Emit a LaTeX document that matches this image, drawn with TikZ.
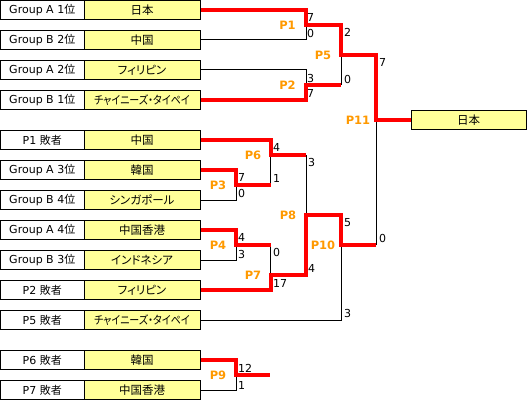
\documentclass[tikz,border=0pt]{standalone}
\usepackage{fontspec}
\setmainfont{DejaVu Sans}
\newfontfamily\jp[RawFeature=+palt]{Noto Sans CJK JP}
\newfontfamily\jpk[RawFeature=+palt,FakeStretch=0.87]{Noto Sans CJK JP}
\definecolor{boxyellow}{HTML}{FFFF99}
\definecolor{porange}{HTML}{FF9900}
\definecolor{winred}{HTML}{FF0000}
\begin{document}
\begin{tikzpicture}[x=1pt,y=-1pt,
  lab/.style={draw=black, line width=1pt, fill=white, minimum width=83.5pt, minimum height=19pt, inner sep=0pt, font=\fontsize{11}{12}\selectfont},
  team/.style={draw=black, line width=1pt, fill=boxyellow, minimum width=116pt, minimum height=19pt, inner sep=0pt, font=\jp\fontsize{11.5}{12}\selectfont},
  num/.style={anchor=west, inner sep=0pt, font=\fontsize{11}{12}\selectfont},
  plab/.style={text=porange, inner sep=0pt, font=\bfseries\fontsize{11.5}{12}\selectfont},
  loser/.style={black, line width=1pt},
  winner/.style={winred, line width=4pt, line join=miter}]
\useasboundingbox (0,0) rectangle (527,401);
% rows
\node[lab] (l1) at (42.25,10) {Group A 1{\jp 位}};
\node[team] (t1) at (142,10) {日本};
\node[lab] (l2) at (42.25,40) {Group B 2{\jp 位}};
\node[team] (t2) at (142,40) {中国};
\node[lab] (l3) at (42.25,70) {Group A 2{\jp 位}};
\node[team] (t3) at (142,70) {フィリピン};
\node[lab] (l4) at (42.25,100) {Group B 1{\jp 位}};
\node[team] (t4) at (142,100) {\jpk チャイニーズ・タイペイ};
\node[lab] (l5) at (42.25,140) {P1 {\jp 敗者}};
\node[team] (t5) at (142,140) {中国};
\node[lab] (l6) at (42.25,170) {Group A 3{\jp 位}};
\node[team] (t6) at (142,170) {韓国};
\node[lab] (l7) at (42.25,200) {Group B 4{\jp 位}};
\node[team] (t7) at (142,200) {シンガポール};
\node[lab] (l8) at (42.25,230) {Group A 4{\jp 位}};
\node[team] (t8) at (142,230) {中国香港};
\node[lab] (l9) at (42.25,260) {Group B 3{\jp 位}};
\node[team] (t9) at (142,260) {インドネシア};
\node[lab] (l10) at (42.25,290) {P2 {\jp 敗者}};
\node[team] (t10) at (142,290) {フィリピン};
\node[lab] (l11) at (42.25,320) {P5 {\jp 敗者}};
\node[team] (t11) at (142,320) {\jpk チャイニーズ・タイペイ};
\node[lab] (l12) at (42.25,360) {P6 {\jp 敗者}};
\node[team] (t12) at (142,360) {韓国};
\node[lab] (l13) at (42.25,390) {P7 {\jp 敗者}};
\node[team] (t13) at (142,390) {中国香港};
\node[team, minimum width=115pt] (final) at (468.5,120) {日本};
% bracket points
\coordinate (p1) at (306,25);
\coordinate (p2) at (306,85);
\coordinate (p5) at (341,55);
\coordinate (p11) at (376,120);
\coordinate (p3) at (236,185);
\coordinate (p4) at (236,245);
\coordinate (p6) at (270.5,155);
\coordinate (p7) at (270.5,275);
\coordinate (p8) at (306,215);
\coordinate (p10) at (341,245);
\coordinate (p9) at (236,375);
\coordinate (p9e) at (270,375);
% losing lines
\draw[loser] (t2.east) -| (p1);
\draw[loser] (t3.east) -| (p2);
\draw[loser] (p2 -| p5) -- (p5);
\draw[loser] (p10 -| p11) -- (p11);
\draw[loser] (t7.east) -| (p3);
\draw[loser] (t9.east) -| (p4);
\draw[loser] (p3 -| p6) -- (p6);
\draw[loser] (p4 -| p7) -- (p7);
\draw[loser] (p6 -| p8) -- (p8);
\draw[loser] (t11.east) -| (p10);
\draw[loser] (t13.east) -| (p9);
% winning lines
\draw[winner] (t1.east) -| (p1) -| (p5) -| (p11) -- (final.west);
\draw[winner] (t4.east) -| (p2) -- (p2 -| p5);
\draw[winner] (t5.east) -| (p6) -- (p6 -| p8);
\draw[winner] (t6.east) -| (p3) -- (p3 -| p6);
\draw[winner] (t8.east) -| (p4) -- (p4 -| p7);
\draw[winner] (t10.east) -| (p7) -| (p8) -| (p10) -- (p10 -| p11);
\draw[winner] (t12.east) -| (p9) -- (p9e);
% match labels
\node[plab] (m1) at (287.5,25.5) {P1};
\node[plab] (m2) at (287.5,85.5) {P2};
\node[plab] (m5) at (323,55.5) {P5};
\node[plab] (m11) at (358,120.5) {P11};
\node[plab] (m6) at (253,155) {P6};
\node[plab] (m3) at (218,185) {P3};
\node[plab] (m4) at (218,245) {P4};
\node[plab] (m7) at (253,275) {P7};
\node[plab] (m8) at (288,215) {P8};
\node[plab] (m10) at (323,245) {P10};
\node[plab] (m9) at (218,375) {P9};
% scores
\node[num] (s1a) at (307,17.5) {7};
\node[num] (s1b) at (307,33.5) {0};
\node[num] (s2a) at (307,78) {3};
\node[num] (s2b) at (307,93) {7};
\node[num] (s5a) at (344,32.5) {2};
\node[num] (s5b) at (344,79) {0};
\node[num] (s11a) at (379,62.5) {7};
\node[num] (s11b) at (379,238.5) {0};
\node[num] (s6a) at (273,147.5) {4};
\node[num] (s6b) at (273,178.5) {1};
\node[num] (s3a) at (238,177.5) {7};
\node[num] (s3b) at (238,193.5) {0};
\node[num] (s4a) at (238,237.5) {4};
\node[num] (s4b) at (238,254) {3};
\node[num] (s7a) at (273,252.5) {0};
\node[num] (s7b) at (273,283) {17};
\node[num] (s8a) at (308,162.5) {3};
\node[num] (s8b) at (308,268) {4};
\node[num] (s10a) at (344,222.5) {5};
\node[num] (s10b) at (344,313) {3};
\node[num] (s9a) at (238,368.5) {12};
\node[num] (s9b) at (238,385) {1};
\end{tikzpicture}
\end{document}
